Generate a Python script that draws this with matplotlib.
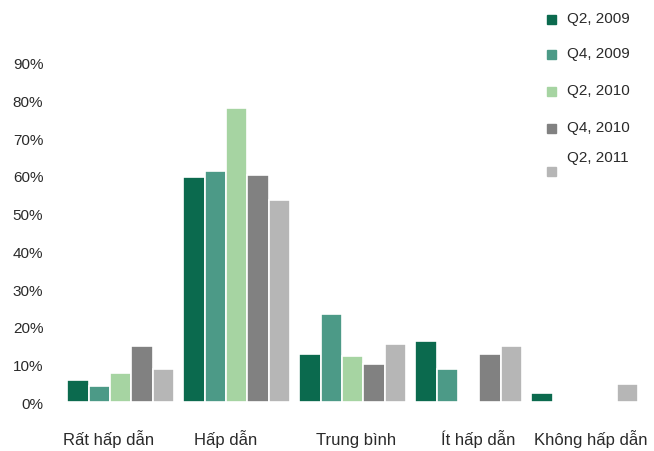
import matplotlib
matplotlib.use("Agg")
import matplotlib.pyplot as plt
import numpy as np
from matplotlib.patches import Rectangle
from matplotlib.transforms import blended_transform_factory, ScaledTranslation

plt.rcParams['font.family'] = ['Liberation Sans', 'DejaVu Sans']

categories = ["Rất hấp dẫn", "Hấp dẫn", "Trung bình", "Ít hấp dẫn", "Không hấp dẫn"]
series_names = ["Q2, 2009", "Q4, 2009", "Q2, 2010", "Q4, 2010", "Q2, 2011"]
q2_2009 = [6.0, 59.6, 12.8, 16.2, 2.4]
q4_2009 = [4.3, 61.2, 23.5, 8.9, 0.0]
q2_2010 = [7.8, 77.9, 12.3, 0.0, 0.0]
q4_2010 = [14.9, 60.3, 10.2, 12.8, 0.0]
q2_2011 = [8.9, 53.6, 15.4, 14.9, 4.7]
yticks = [0, 10, 20, 30, 40, 50, 60, 70, 80, 90]

series_values = [q2_2009, q4_2009, q2_2010, q4_2010, q2_2011]
colors = ["#0b6a4e", "#4c9a87", "#a6d4a2", "#818181", "#b6b6b6"]
text_color = "#2a2a2a"

fig = plt.figure(figsize=(6.54, 4.52), dpi=100)
ax = fig.add_axes([0.0959, 0.1080, 0.8868, 0.7510])

x = np.arange(len(categories))
pitch = 0.1836
width = 0.1836
for i, (vals, col) in enumerate(zip(series_values, colors)):
    offs = (i - 2) * pitch
    ax.bar(x + offs, vals, width=width, color=col, edgecolor="white",
           linewidth=1.2)

ax.set_xlim(-0.5, len(categories) - 0.5)
ax.set_ylim(0, 90)
ax.set_yticks(yticks)
ax.set_yticklabels([f"{t}%" for t in yticks], fontsize=11, color=text_color)
ax.tick_params(axis="y", length=0, pad=14)
ax.set_xticks([])
for s in ax.spines.values():
    s.set_visible(False)

# Category names sit on a common baseline below the bars
label_shift_px = [-12, -11, 3, 9, 6]
for xi, name, dx in zip(x, categories, label_shift_px):
    tr = blended_transform_factory(ax.transData, fig.transFigure) + \
        ScaledTranslation(dx / 100, 0, fig.dpi_scale_trans)
    ax.text(xi, 1 - 445 / 452, name, transform=tr, fontsize=12,
            color=text_color, ha="center", va="baseline")

# Legend drawn as a vertical list at the top right
W, H = 654.0, 452.0
entries_y = [19, 54, 91, 128, 158]
square_y = [20, 55, 92, 129, 172]
for name, col, ty, sy in zip(series_names, colors, entries_y, square_y):
    fig.patches.append(Rectangle((547 / W, 1 - (sy + 4.5) / H), 9 / W, 9 / H,
                                 transform=fig.transFigure, color=col))
    fig.text(567 / W, 1 - ty / H, name, fontsize=11, color=text_color,
             va="center", ha="left")

fig.savefig("out.png", dpi=100, facecolor="white")
